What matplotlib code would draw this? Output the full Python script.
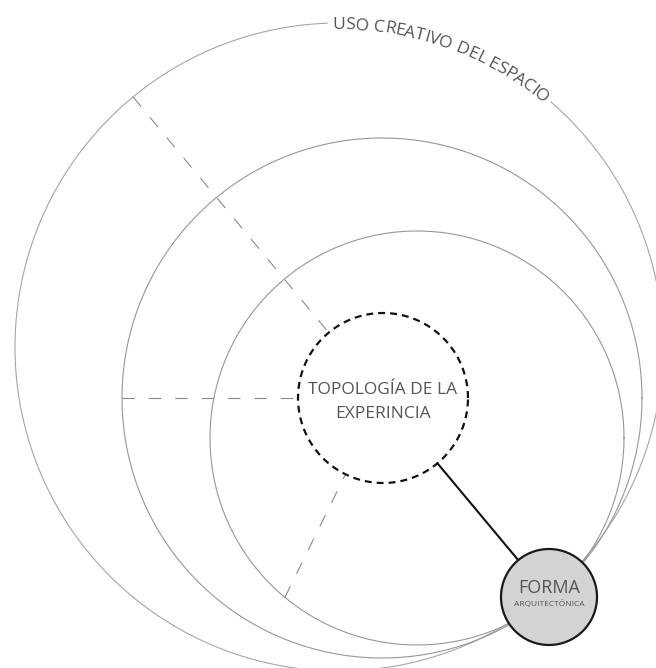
import numpy as np
import matplotlib.pyplot as plt
from matplotlib.patches import Circle
from matplotlib.textpath import TextPath
from matplotlib.font_manager import FontProperties

plt.rcParams['lines.scale_dashes'] = False
plt.rcParams['font.family'] = ['Open Sans', 'DejaVu Sans']

# geometry, in pixels (y grows downward)
ring_cx = [339, 382, 417]
ring_cy = [347, 398, 438]
ring_r = [324, 260, 207]
ring_color = ['#a6a6a6', '#979797', '#979797']

topo_center = (383, 398)
topo_r = 85
forma_center = (549, 597)
forma_r = 48

# dashed spokes out of the centre circle: angle (deg, ccw on screen) and ring they reach
spoke_angles = [129.7, 180.0, 243.8]
spoke_rings = [0, 1, 2]

title = 'USO CREATIVO DEL ESPACIO'
title_start = 90.8   # angle on the outer ring where the text begins
title_size = 12.6

center_label = ['TOPOLOGÍA DE LA', 'EXPERINCIA']
forma_label = ['FORMA', 'ARQUITECTÓNICA']

TXT = '#555555'
W, H = 656, 668

fig = plt.figure(figsize=(W / 100, H / 100), dpi=100)
ax = fig.add_axes([0, 0, 1, 1])
ax.set_xlim(0, W)
ax.set_ylim(H, 0)
ax.set_aspect('equal')
ax.axis('off')


def arc(cx, cy, r, a0=0, a1=360, n=900):
    t = np.radians(np.linspace(a0, a1, n))
    return cx + r * np.cos(t), cy - r * np.sin(t)


# title bent along the outer ring
fp = FontProperties(family='Open Sans')
R = ring_r[0]
fs_px = title_size / 0.72
full = TextPath((0, 0), title, size=fs_px, prop=fp).get_extents()
cap = TextPath((0, 0), 'E', size=fs_px, prop=fp).get_extents().height
rb = R - cap / 2
title_end = title_start - np.degrees(full.width / R)
for i, ch in enumerate(title):
    if ch == ' ':
        continue
    right = TextPath((0, 0), title[:i + 1], size=fs_px, prop=fp).get_extents().x1
    w = TextPath((0, 0), ch, size=fs_px, prop=fp).get_extents().width
    s = right - w / 2 - full.x0
    th = title_start - np.degrees(s / R)
    tx = ring_cx[0] + rb * np.cos(np.radians(th))
    ty = ring_cy[0] - rb * np.sin(np.radians(th))
    ax.text(tx, ty, ch, fontsize=title_size, color=TXT, ha='center', va='baseline',
            rotation=th - 90, rotation_mode='anchor', zorder=5)

# the three rings, outer one broken under the title
for i in range(3):
    if i == 0:
        x, y = arc(ring_cx[i], ring_cy[i], ring_r[i], title_start + 1.3, title_end - 1.0 + 360)
    else:
        x, y = arc(ring_cx[i], ring_cy[i], ring_r[i])
    ax.plot(x, y, color=ring_color[i], lw=0.8, zorder=1)

# spokes
px, py = topo_center
for ang, k in zip(spoke_angles, spoke_rings):
    dx, dy = np.cos(np.radians(ang)), -np.sin(np.radians(ang))
    ox, oy = px - ring_cx[k], py - ring_cy[k]
    b = dx * ox + dy * oy
    t = -b + np.sqrt(b * b - (ox * ox + oy * oy - ring_r[k] ** 2))
    ax.plot([px + t * dx, px + topo_r * dx], [py + t * dy, py + topo_r * dy],
            color='#8a8a8a', lw=0.8, linestyle=(0, (9, 10)), zorder=2)

# dashed centre circle
x, y = arc(px, py, topo_r)
ax.plot(x, y, color='#111111', lw=1.6, linestyle=(0, (5, 3.6)), zorder=3)

# connector to FORMA
fx, fy = forma_center
d = np.hypot(fx - px, fy - py)
ux, uy = (fx - px) / d, (fy - py) / d
ax.plot([px + topo_r * ux, fx - forma_r * ux], [py + topo_r * uy, fy - forma_r * uy],
        color='#111111', lw=1.5, zorder=3)

ax.add_patch(Circle(forma_center, forma_r, facecolor='#d3d3d3', edgecolor='#1a1a1a',
                    lw=1.6, zorder=4))

# labels
ax.text(px, 390, center_label[0], ha='center', va='center', fontsize=12.5, color=TXT, zorder=5)
ax.text(px, 414, center_label[1], ha='center', va='center', fontsize=12.5, color=TXT, zorder=5)
ax.text(fx, 588, forma_label[0], ha='center', va='center', fontsize=13, color=TXT, zorder=5)
ax.text(fx, 604, forma_label[1], ha='center', va='center', fontsize=6, color=TXT, zorder=5)

fig.savefig('out.png', dpi=100)
